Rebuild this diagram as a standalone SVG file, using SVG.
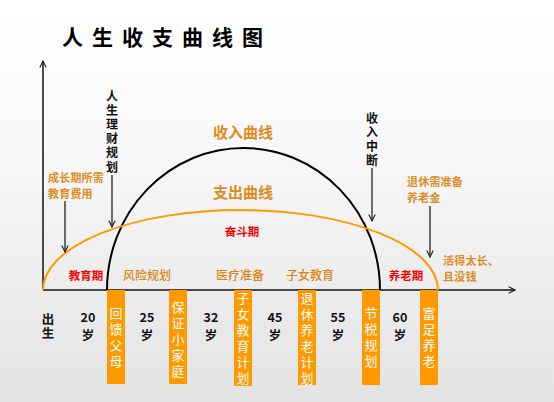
<svg xmlns="http://www.w3.org/2000/svg" width="554" height="402" viewBox="0 0 554 402">
<defs>
<linearGradient id="bg" x1="0" y1="0" x2="0" y2="1">
<stop offset="0" stop-color="#ffffff"/>
<stop offset="0.4" stop-color="#f7f7f7"/>
<stop offset="1" stop-color="#e3e3e3"/>
</linearGradient>
<marker id="ah" viewBox="0 0 10 10" refX="9" refY="5" markerWidth="8" markerHeight="8" orient="auto" markerUnits="userSpaceOnUse">
<path d="M1,1 L9,5 L1,9" fill="none" stroke="#222" stroke-width="1.4"/>
</marker>
</defs>
<style>
text{font-family:"Noto Sans CJK SC","Liberation Sans",sans-serif;}
.title{font-size:21px;font-weight:bold;fill:#000;letter-spacing:9px;}
.big{font-size:15px;font-weight:bold;fill:#de8b1f;text-anchor:middle;}
.red{font-size:11.5px;font-weight:bold;fill:#ff0000;text-anchor:middle;}
.or{font-size:11px;fill:#de8b1f;font-weight:bold;letter-spacing:0.2px;}
.orm{font-size:12px;fill:#d98616;text-anchor:middle;font-weight:500;}
.v{writing-mode:vertical-rl;text-orientation:upright;}
.vt{font-size:12px;font-weight:bold;fill:#111;letter-spacing:2.2px;}
.age{font-size:12.5px;font-weight:bold;fill:#111;text-anchor:middle;}
.vage{font-size:12.5px;font-weight:bold;fill:#111;letter-spacing:1.5px;}
.bar{fill:#ff9900;}
.bt{font-size:13px;fill:#fff;letter-spacing:3px;}
.arr{stroke:#333;stroke-width:1.4;fill:none;marker-end:url(#ah);}
</style>
<rect width="554" height="402" fill="url(#bg)"/>
<g id="title"><text class="title" x="62" y="45">人生收支曲线图</text></g>
<g id="connectors">
<line x1="43" y1="290" x2="43" y2="61" stroke="#111" stroke-width="1.5" marker-end="url(#ah)"/>
<line x1="43" y1="290" x2="515" y2="290" stroke="#111" stroke-width="1.5" marker-end="url(#ah)"/>
<path d="M107,290 A136.5,142 0 0 1 380,290" fill="none" stroke="#000" stroke-width="2"/>
<path d="M43,290 A197.5,80 0 0 1 438,290" fill="none" stroke="#ff9900" stroke-width="2"/>
<line class="arr" x1="65" y1="201" x2="65" y2="252"/>
<line class="arr" x1="112" y1="175" x2="112" y2="227"/>
<line class="arr" x1="372" y1="168" x2="372" y2="221"/>
<line class="arr" x1="430" y1="206" x2="430" y2="257"/>
</g>
<g id="curve-labels">
<text class="big" x="243" y="138">收入曲线</text>
<text class="big" x="243" y="198">支出曲线</text>
<text class="red" x="242" y="236">奋斗期</text>
<text class="red" x="86" y="280">教育期</text>
<text class="red" x="406" y="280">养老期</text>
<text class="orm" x="147" y="280">风险规划</text>
<text class="orm" x="240" y="280">医疗准备</text>
<text class="orm" x="310" y="280">子女教育</text>
</g>
<g id="note-growth"><text class="or" x="48" y="182">成长期所需</text><text class="or" x="48" y="198">教育费用</text></g>
<g id="note-retire"><text class="or" x="407" y="186">退休需准备</text><text class="or" x="407" y="202">养老金</text></g>
<g id="note-long"><text class="or" x="443" y="265">活得太长、</text><text class="or" x="443" y="281">且没钱</text></g>
<g id="note-plan"><text class="v vt" x="112" y="90">人生理财规划</text></g>
<g id="note-stop"><text class="v vt" x="372" y="112">收入中断</text></g>
<g id="ages">
<text class="v vage" x="48" y="312.5">出生</text>
<text class="age" x="88" y="322">20</text><text class="age" x="88" y="340">岁</text>
<text class="age" x="147" y="322">25</text><text class="age" x="147" y="340">岁</text>
<text class="age" x="211" y="322">32</text><text class="age" x="211" y="340">岁</text>
<text class="age" x="275" y="322">45</text><text class="age" x="275" y="340">岁</text>
<text class="age" x="338" y="322">55</text><text class="age" x="338" y="340">岁</text>
<text class="age" x="400" y="322">60</text><text class="age" x="400" y="340">岁</text>
</g>
<g id="bar1"><rect class="bar" x="107" y="290" width="18" height="94"/><text class="v bt" x="116" y="306.5">回馈父母</text></g>
<g id="bar2"><rect class="bar" x="169" y="290" width="18" height="94"/><text class="v bt" x="178" y="300.5">保证小家庭</text></g>
<g id="bar3"><rect class="bar" x="234" y="290" width="18" height="96"/><text class="v bt" x="243" y="291.5">子女教育计划</text></g>
<g id="bar4"><rect class="bar" x="298" y="290" width="18" height="95"/><text class="v bt" x="307" y="291.5">退休养老计划</text></g>
<g id="bar5"><rect class="bar" x="362" y="290" width="18" height="95"/><text class="v bt" x="371" y="306.5">节税规划</text></g>
<g id="bar6"><rect class="bar" x="420" y="290" width="18" height="95"/><text class="v bt" x="429" y="306.5">富足养老</text></g>
</svg>
